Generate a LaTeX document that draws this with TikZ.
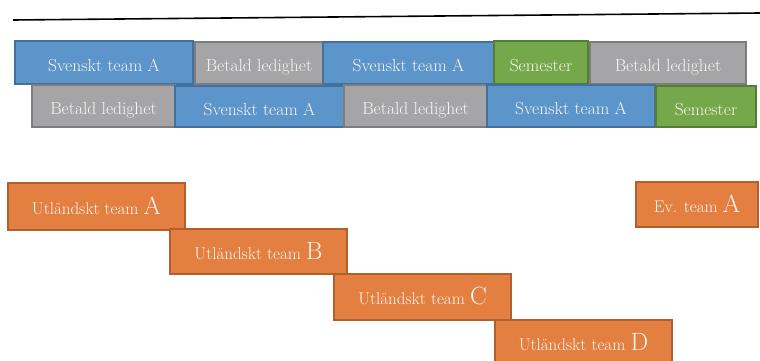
\documentclass[tikz,border=0pt]{standalone}
\usetikzlibrary{positioning}
\definecolor{svblue}{RGB}{91,149,202}
\definecolor{svblueline}{RGB}{65,113,156}
\definecolor{blgrey}{RGB}{165,165,168}
\definecolor{blgreyline}{RGB}{125,125,128}
\definecolor{segreen}{RGB}{117,168,74}
\definecolor{segreenline}{RGB}{84,126,52}
\definecolor{utorange}{RGB}{227,128,65}
\definecolor{utorangeline}{RGB}{178,95,45}
\definecolor{txt}{RGB}{250,246,240}
\tikzset{
  box/.style={draw, line width=1.2pt, text=txt, inner sep=0pt,
    text height=17pt, text depth=0pt,
    font=\fontsize{17.5}{18}\selectfont},
  svensk/.style={box, fill=svblue, draw=svblueline},
  betald/.style={box, fill=blgrey, draw=blgreyline},
  semester/.style={box, fill=segreen, draw=segreenline},
  utland/.style={box, fill=utorange, draw=utorangeline, text height=15pt,
    font=\fontsize{17}{18}\selectfont},
}
\newcommand{\teamletter}[1]{{\fontsize{25}{26}\selectfont #1}}
\begin{document}
\begin{tikzpicture}[x=1pt, y=-1pt]
    \clip (0, 0) rectangle (760, 361);
    \fill [white] (0, 0) rectangle (760, 361);
    \coordinate (lineL) at (13, 20);
    \coordinate (lineR) at (760, 13);
    \draw [line width=1.6pt] (lineL) -- (lineR);
    % first row
    \node [svensk, minimum width=178pt, minimum height=43pt] (sv1) at (104, 62.5) {Svenskt team A};
    \node [betald, minimum width=128pt, minimum height=42pt] (bl1) at (259, 63) {Betald ledighet};
    \node [svensk, minimum width=171pt, minimum height=42pt] (sv2) at (408.5, 63) {Svenskt team A};
    \node [semester, minimum width=94pt, minimum height=43pt] (se1) at (541, 62.5) {Semester};
    \node [betald, minimum width=156pt, minimum height=42pt] (bl2) at (668, 63) {Betald ledighet};
    % second row
    \node [betald, minimum width=143pt, minimum height=42pt] (bl3) at (103.5, 106) {Betald ledighet};
    \node [svensk, minimum width=169pt, minimum height=41pt] (sv3) at (259.5, 106.5) {Svenskt team A};
    \node [betald, minimum width=143pt, minimum height=42pt] (bl4) at (415.5, 106) {Betald ledighet};
    \node [svensk, minimum width=168pt, minimum height=42pt] (sv4) at (571, 106) {Svenskt team A};
    \node [semester, minimum width=100pt, minimum height=41pt] (se2) at (706, 106.5) {Semester};
    % foreign teams
    \node [utland, minimum width=177pt, minimum height=47pt] (utA) at (96.5, 206.5) {Utländskt team \teamletter{A}};
    \node [utland, minimum width=177pt, minimum height=45pt] (utB) at (258.5, 251.5) {Utländskt team \teamletter{B}};
    \node [utland, minimum width=177pt, minimum height=46pt] (utC) at (422.5, 297) {Utländskt team \teamletter{C}};
    \node [utland, minimum width=177pt, minimum height=46pt] (utD) at (583.5, 343) {Utländskt team \teamletter{D}};
    \node [utland, minimum width=122pt, minimum height=45pt] (evA) at (697, 204.5) {Ev. team \teamletter{A}};
\end{tikzpicture}
\end{document}
